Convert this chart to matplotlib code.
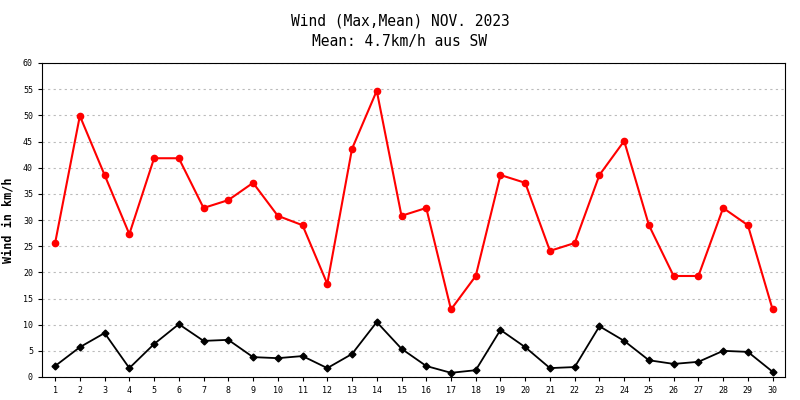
import matplotlib
matplotlib.use("Agg")
import matplotlib.pyplot as plt

days = list(range(1, 31))
wind_max = [25.6, 49.9, 38.6, 27.3, 41.8, 41.8, 32.3, 33.8, 37.1, 30.8, 29.0, 17.8, 43.6, 54.7, 30.8,
            32.3, 12.9, 19.3, 38.6, 37.1, 24.1, 25.6, 38.6, 45.1, 29.0, 19.3, 19.3, 32.3, 29.0, 12.9]
wind_mean = [2.1, 5.7, 8.4, 1.7, 6.3, 10.1, 6.9, 7.1, 3.8, 3.6, 4.0, 1.7, 4.4, 10.5, 5.4,
             2.1, 0.8, 1.3, 9.0, 5.7, 1.7, 1.9, 9.7, 6.9, 3.2, 2.5, 2.9, 5.0, 4.8, 1.0]
yticks = list(range(0, 61, 5))

fig = plt.figure(figsize=(8, 4), dpi=100)
ax = fig.add_axes([42/800, 1-377/400, 743/800, 314/400])
ax.plot(days, wind_max, color="#ff0000", marker="o", markersize=4.5, linewidth=1.5)
ax.plot(days, wind_mean, color="#000000", marker="D", markersize=3.5, linewidth=1.3)
ax.set_xlim(0.47, 30.5)
ax.set_ylim(0, 60)
ax.set_xticks(days)
ax.set_yticks(yticks)
ax.tick_params(labelsize=6, length=3, direction="out")
for lab in ax.get_xticklabels() + ax.get_yticklabels():
    lab.set_fontfamily("DejaVu Sans Mono")
ax.grid(axis="y", color="#bbbbbb", linestyle=(0, (2, 3)), linewidth=0.8)
ax.set_axisbelow(True)
ax.set_ylabel("Wind in km/h", fontfamily="DejaVu Sans Mono", fontweight="bold", fontsize=8.5, labelpad=6)
fig.text(0.5, 0.965, "Wind (Max,Mean) NOV. 2023\nMean: 4.7km/h aus SW", ha="center", va="top",
         fontfamily="DejaVu Sans Mono", fontsize=10.5, linespacing=1.4)
fig.savefig("out.png", dpi=100)
